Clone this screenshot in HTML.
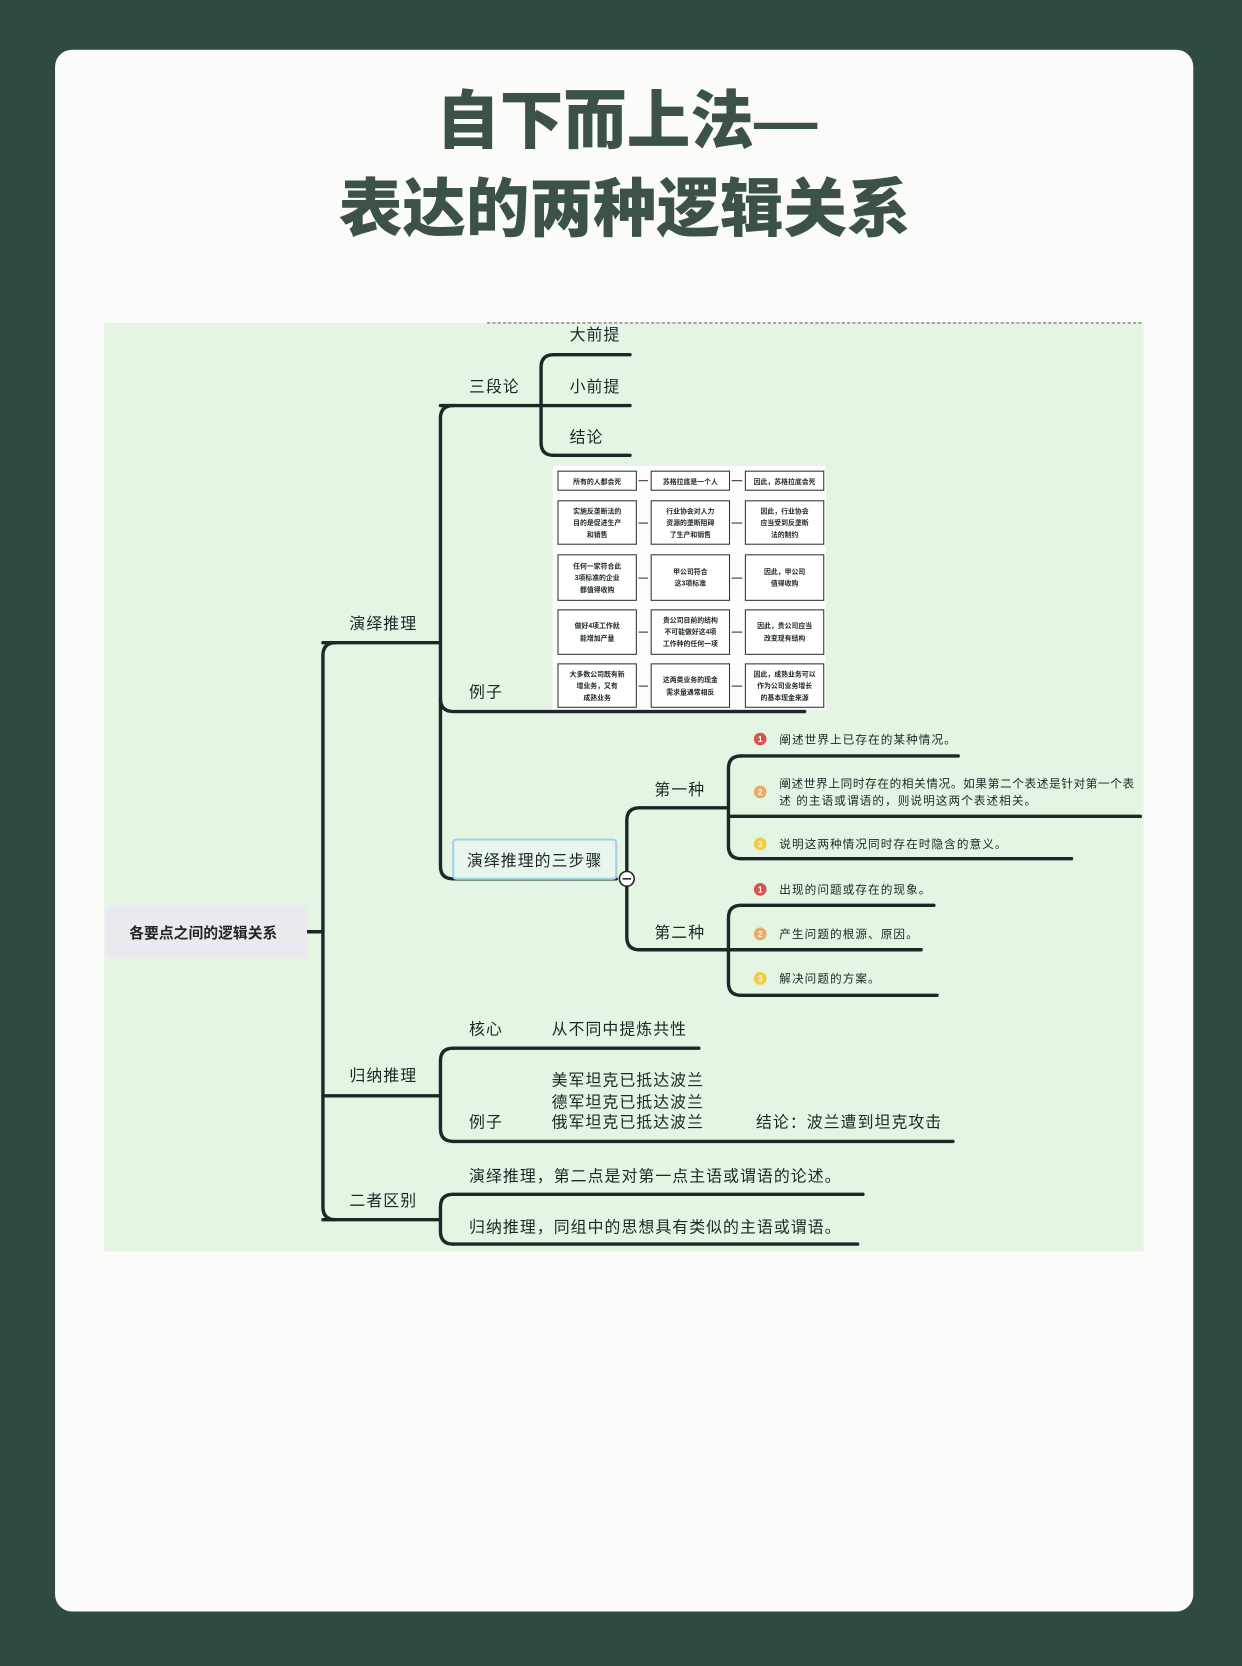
<!DOCTYPE html>
<html><head><meta charset="utf-8"><style>
html,body{margin:0;padding:0;width:1242px;height:1660px;overflow:hidden;background:#2f4a3f}
#w{position:absolute;left:0;top:0;width:1173px;height:1568px;transform:scale(1.0588);transform-origin:0 0}
svg text{font-family:"Liberation Sans","Noto Sans CJK SC",sans-serif;fill:#1e2626}
</style></head><body><div id="w">
<svg width="1173" height="1568" viewBox="0 0 1173 1568" xmlns="http://www.w3.org/2000/svg">
<rect x="0" y="0" width="1173" height="1568" fill="#2f4a3f"/>
<rect x="52" y="47" width="1075" height="1475" rx="16" fill="#fbfcfa"/>
<text x="592" y="135" text-anchor="middle" font-size="60" font-weight="900" style="fill:#3b5244">自下而上法—</text>
<text x="590" y="218" text-anchor="middle" font-size="60" font-weight="900" style="fill:#3b5244">表达的两种逻辑关系</text>
<rect x="98" y="305" width="982" height="877" fill="#e4f5e3"/>
<line x1="460" y1="305" x2="1080" y2="305" stroke="#667" stroke-dasharray="3,2" stroke-width="1"/>
<g fill="none" stroke="#1d2727" stroke-width="3.2" stroke-linecap="round">
<line x1="290" y1="880" x2="305" y2="880"/>
<path d="M317,607 Q305,607 305,619 L305,1140 Q305,1152 317,1152"/>
<line x1="305" y1="607" x2="416" y2="607"/>
<line x1="305" y1="1035" x2="416" y2="1035"/>
<line x1="305" y1="1152" x2="416" y2="1152"/>
<path d="M428,383 Q416,383 416,395 L416,818 Q416,830 428,830"/>
<line x1="416" y1="383" x2="511" y2="383"/>
<path d="M416,660 Q416,672 428,672 L760,672"/>
<line x1="428" y1="830" x2="582" y2="830"/>
<path d="M523,335 Q511,335 511,347 L511,418 Q511,430 523,430"/>
<line x1="523" y1="335" x2="595" y2="335"/>
<line x1="511" y1="383" x2="595" y2="383"/>
<line x1="523" y1="430" x2="595" y2="430"/>
<path d="M604,763 Q592,763 592,775 L592,885 Q592,897 604,897"/>
<line x1="604" y1="763" x2="688" y2="763"/>
<line x1="604" y1="897" x2="688" y2="897"/>
<path d="M700,714 Q688,714 688,726 L688,799 Q688,811 700,811"/>
<line x1="700" y1="714" x2="905" y2="714"/>
<line x1="688" y1="771" x2="1077" y2="771"/>
<line x1="700" y1="811" x2="1012" y2="811"/>
<path d="M700,855 Q688,855 688,867 L688,928 Q688,940 700,940"/>
<line x1="700" y1="855" x2="882" y2="855"/>
<line x1="688" y1="897" x2="870" y2="897"/>
<line x1="700" y1="940" x2="885" y2="940"/>
<path d="M428,990 Q416,990 416,1002 L416,1066 Q416,1078 428,1078"/>
<line x1="428" y1="990" x2="660" y2="990"/>
<line x1="428" y1="1078" x2="900" y2="1078"/>
<path d="M428,1128 Q416,1128 416,1140 L416,1163 Q416,1175 428,1175"/>
<line x1="428" y1="1128" x2="815" y2="1128"/>
<line x1="428" y1="1175" x2="810" y2="1175"/>
</g>
<rect x="100" y="855" width="190" height="50" rx="4" fill="#ebe8ef"/>
<text x="192" y="886" text-anchor="middle" font-size="14" font-weight="bold">各要点之间的逻辑关系</text>
<rect x="428" y="793" width="154" height="37" rx="3" fill="#e8f6ee" stroke="#9fd2e6" stroke-width="2"/>
<text x="505" y="818" text-anchor="middle" font-size="15" letter-spacing="1">演绎推理的三步骤</text>
<circle cx="592" cy="830" r="7" fill="#fff" stroke="#1d2727" stroke-width="1.5"/>
<line x1="588" y1="830" x2="596" y2="830" stroke="#1d2727" stroke-width="1.5"/>
<g font-size="15" letter-spacing="1">
<text x="330" y="594">演绎推理</text>
<text x="330" y="1021">归纳推理</text>
<text x="330" y="1139">二者区别</text>
<text x="443" y="370">三段论</text>
<text x="443" y="659">例子</text>
<text x="538" y="321">大前提</text>
<text x="538" y="370">小前提</text>
<text x="538" y="418">结论</text>
<text x="618" y="751">第一种</text>
<text x="618" y="886">第二种</text>
<text x="443" y="977">核心</text>
<text x="521" y="977">从不同中提炼共性</text>
<text x="521" y="1025">美军坦克已抵达波兰</text>
<text x="521" y="1046">德军坦克已抵达波兰</text>
<text x="521" y="1065">俄军坦克已抵达波兰</text>
<text x="443" y="1065">例子</text>
<text x="714" y="1065">结论：波兰遭到坦克攻击</text>
<text x="443" y="1116">演绎推理，第二点是对第一点主语或谓语的论述。</text>
<text x="443" y="1164">归纳推理，同组中的思想具有类似的主语或谓语。</text>
</g>
<g font-size="11" letter-spacing="1">
<text x="736" y="702">阐述世界上已存在的某种情况。</text>
<text x="736" y="744" letter-spacing="0.6">阐述世界上同时存在的相关情况。如果第二个表述是针对第一个表</text>
<text x="736" y="760">述 的主语或谓语的，则说明这两个表述相关。</text>
<text x="736" y="801">说明这两种情况同时存在时隐含的意义。</text>
<text x="736" y="844">出现的问题或存在的现象。</text>
<text x="736" y="886">产生问题的根源、原因。</text>
<text x="736" y="928">解决问题的方案。</text>
</g>
<g font-size="8" font-weight="bold" text-anchor="middle">
<circle cx="718" cy="698" r="6" fill="#d9534f"/><text x="718" y="701" style="fill:#fff">1</text>
<circle cx="718" cy="748" r="6" fill="#f0a960"/><text x="718" y="751" style="fill:#fff">2</text>
<circle cx="718" cy="797" r="6" fill="#f2cc3a"/><text x="718" y="800" style="fill:#fff">3</text>
<circle cx="718" cy="840" r="6" fill="#d9534f"/><text x="718" y="843" style="fill:#fff">1</text>
<circle cx="718" cy="882" r="6" fill="#f0a960"/><text x="718" y="885" style="fill:#fff">2</text>
<circle cx="718" cy="924" r="6" fill="#f2cc3a"/><text x="718" y="927" style="fill:#fff">3</text>
</g>
<rect x="522" y="440" width="258" height="230" fill="#fdfdfd"/>
<g fill="#fff" stroke="#333" stroke-width="1">
<rect x="527" y="445" width="74" height="18"/><rect x="615" y="445" width="74" height="18"/><rect x="704" y="445" width="74" height="18"/>
<rect x="527" y="473" width="74" height="41"/><rect x="615" y="473" width="74" height="41"/><rect x="704" y="473" width="74" height="41"/>
<rect x="527" y="524" width="74" height="43"/><rect x="615" y="524" width="74" height="43"/><rect x="704" y="524" width="74" height="43"/>
<rect x="527" y="576" width="74" height="42"/><rect x="615" y="576" width="74" height="42"/><rect x="704" y="576" width="74" height="42"/>
<rect x="527" y="627" width="74" height="41"/><rect x="615" y="627" width="74" height="41"/><rect x="704" y="627" width="74" height="41"/>
</g>
<g stroke="#333" stroke-width="1">
<line x1="603" y1="454" x2="612" y2="454"/><line x1="691" y1="454" x2="701" y2="454"/>
<line x1="603" y1="494" x2="612" y2="494"/><line x1="691" y1="494" x2="701" y2="494"/>
<line x1="603" y1="546" x2="612" y2="546"/><line x1="691" y1="546" x2="701" y2="546"/>
<line x1="603" y1="597" x2="612" y2="597"/><line x1="691" y1="597" x2="701" y2="597"/>
<line x1="603" y1="648" x2="612" y2="648"/><line x1="691" y1="648" x2="701" y2="648"/>
</g>
<g font-size="6.5" text-anchor="middle" font-weight="bold">
<text x="564" y="457">所有的人都会死</text><text x="652" y="457">苏格拉底是一个人</text><text x="741" y="457">因此，苏格拉底会死</text>
<text x="564" y="485">实施反垄断法的</text><text x="564" y="496">目的是促进生产</text><text x="564" y="507">和销售</text>
<text x="652" y="485">行业协会对人力</text><text x="652" y="496">资源的垄断阻碍</text><text x="652" y="507">了生产和销售</text>
<text x="741" y="485">因此，行业协会</text><text x="741" y="496">应当受到反垄断</text><text x="741" y="507">法的制约</text>
<text x="564" y="537">任何一家符合此</text><text x="564" y="548">3项标准的企业</text><text x="564" y="559">都值得收购</text>
<text x="652" y="542">甲公司符合</text><text x="652" y="553">这3项标准</text>
<text x="741" y="542">因此，甲公司</text><text x="741" y="553">值得收购</text>
<text x="564" y="593">做好4项工作就</text><text x="564" y="605">能增加产量</text>
<text x="652" y="588">贵公司目前的结构</text><text x="652" y="599">不可能做好这4项</text><text x="652" y="610">工作种的任何一项</text>
<text x="741" y="593">因此，贵公司应当</text><text x="741" y="605">改变现有结构</text>
<text x="564" y="639">大多数公司既有新</text><text x="564" y="650">增业务，又有</text><text x="564" y="661">成熟业务</text>
<text x="652" y="644">这两类业务的现金</text><text x="652" y="656">需求量通常相反</text>
<text x="741" y="639">因此，成熟业务可以</text><text x="741" y="650">作为公司业务增长</text><text x="741" y="661">的基本现金来源</text>
</g>
</svg>
</div></body></html>
